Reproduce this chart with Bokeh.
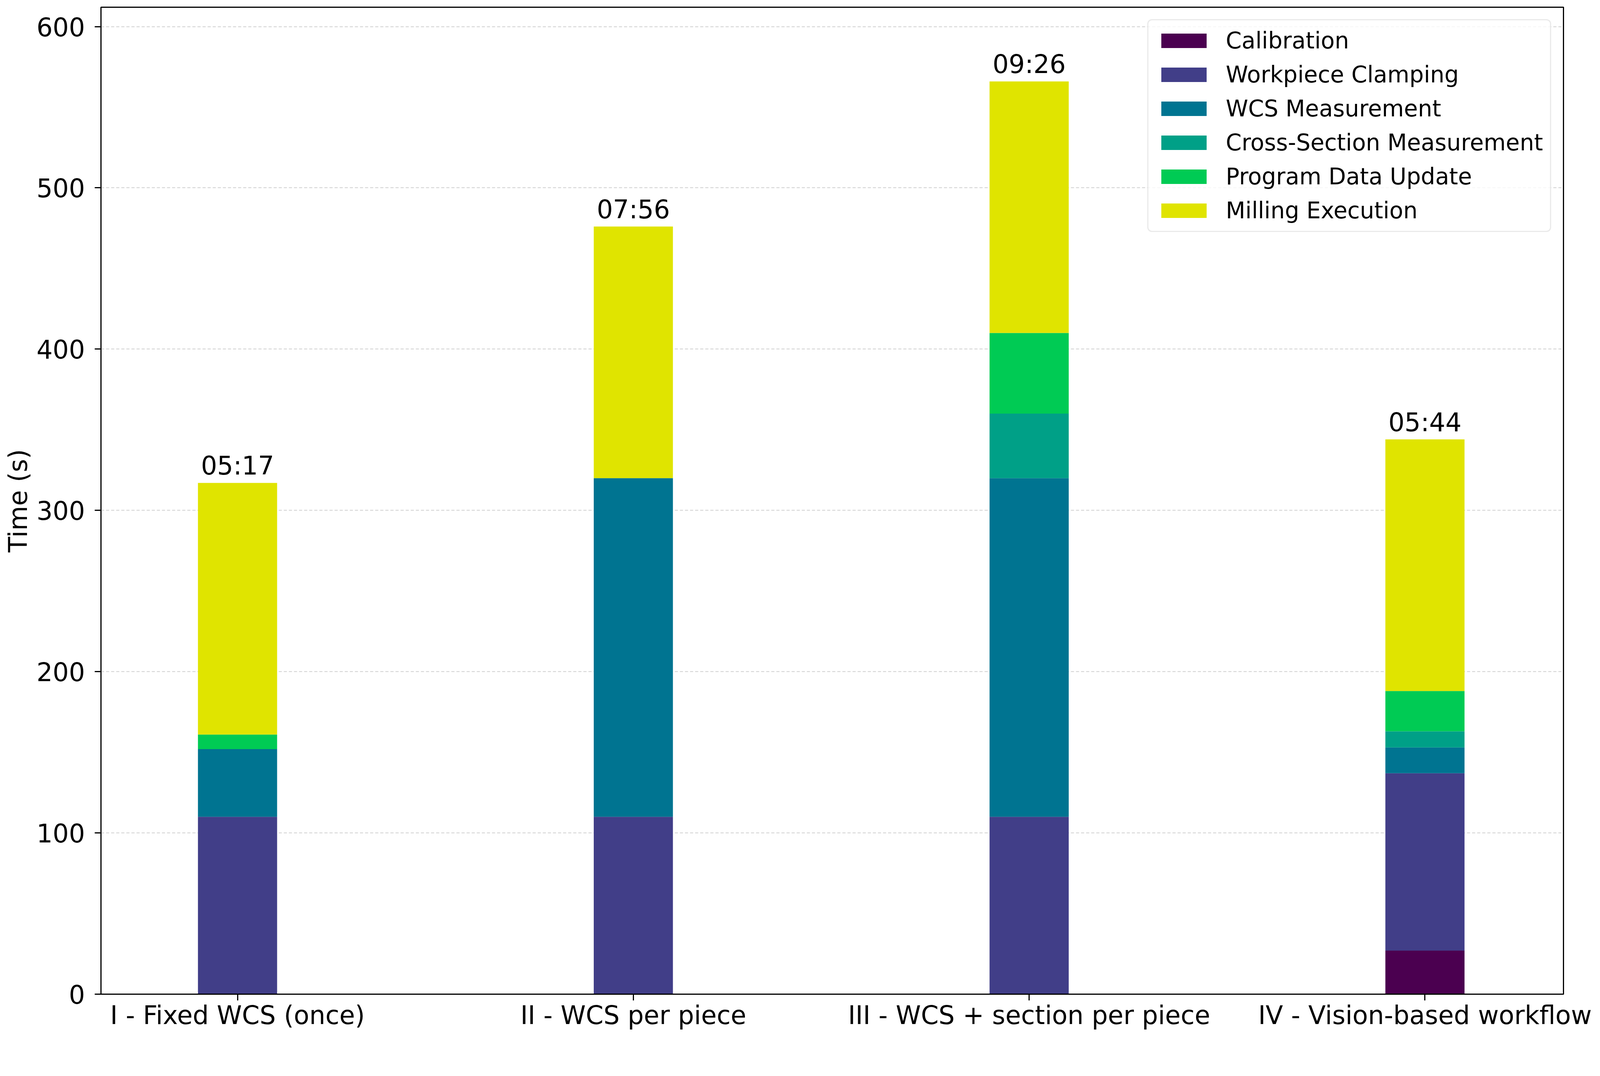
from bokeh.plotting import figure
from bokeh.models import ColumnDataSource, FixedTicker, Range1d
from bokeh.core.properties import value
from bokeh.embed import file_html
from bokeh.resources import INLINE

# ---- data ----
categories = ["I - Fixed WCS (once)", "II - WCS per piece",
              "III - WCS + section per piece", "IV - Vision-based workflow"]
series_names = ["Calibration", "Workpiece Clamping", "WCS Measurement",
                "Cross-Section Measurement", "Program Data Update", "Milling Execution"]
calibration = [0, 0, 0, 27]
clamping = [110, 110, 110, 110]
wcs = [42, 210, 210, 16]
cross_section = [0, 0, 40, 10]
program_update = [9, 0, 50, 25]
milling = [156, 156, 156, 156]
y_ticks = [0, 100, 200, 300, 400, 500, 600]

colors = ["#4b0050", "#413e88", "#007491", "#00a087", "#00cb54", "#e0e400"]

keys = ["cal", "clamp", "wcs", "cross", "prog", "mill"]
xs = list(range(len(categories)))
totals = [a + b + c + d + e + f for a, b, c, d, e, f in
          zip(calibration, clamping, wcs, cross_section, program_update, milling)]
time_labels = ["%02d:%02d" % (t // 60, t % 60) for t in totals]

source = ColumnDataSource(dict(x=xs, cal=calibration, clamp=clamping, wcs=wcs,
                               cross=cross_section, prog=program_update, mill=milling))
lab_src = ColumnDataSource(dict(x=xs, y=totals, text=time_labels))

FONT = "DejaVu Sans"

p = figure(width=4090, height=2640, output_backend="svg", toolbar_location=None,
           x_range=Range1d(-0.345, 3.35), y_range=Range1d(0, 612),
           min_border_left=258, min_border_right=88, min_border_top=18,
           min_border_bottom=95)
p.background_fill_color = "white"
p.border_fill_color = "white"
p.outline_line_color = "black"
p.outline_line_width = 3

p.vbar_stack(keys, x="x", width=0.2, color=colors, line_color=None,
             source=source, legend_label=series_names)

p.text(x="x", y="y", text="text", source=lab_src, text_align="center",
       text_baseline="alphabetic", y_offset=-44, text_font=value(FONT),
       text_font_size="65px", text_color="black")

# axes
p.xaxis.ticker = FixedTicker(ticks=xs)
p.xaxis.major_label_overrides = {i: c for i, c in zip(xs, categories)}
p.yaxis.ticker = FixedTicker(ticks=y_ticks)
p.yaxis.axis_label = "Time (s)"
for ax in (p.xaxis[0], p.yaxis[0]):
    ax.axis_line_color = "black"
    ax.axis_line_width = 3
    ax.major_tick_line_color = "black"
    ax.major_tick_line_width = 3
    ax.major_tick_out = 16
    ax.major_tick_in = 0
    ax.minor_tick_line_color = None
    ax.major_label_text_font = FONT
    ax.major_label_text_font_size = "65px"
    ax.major_label_text_color = "black"
    ax.axis_label_text_font = FONT
    ax.axis_label_text_font_size = "65px"
    ax.axis_label_text_font_style = "normal"
    ax.axis_label_text_color = "black"
p.xaxis.major_label_standoff = 0
p.yaxis.major_label_standoff = 25
p.yaxis.axis_label_standoff = 6

p.xgrid.visible = False
p.ygrid.grid_line_color = "#cfcfcf"
p.ygrid.grid_line_width = 2
p.ygrid.grid_line_dash = "8 5"

# legend
lg = p.legend[0]
lg.location = "top_right"
lg.margin = 31
lg.padding = 18
lg.spacing = 19
lg.glyph_width = 145
lg.glyph_height = 46
lg.label_standoff = 35
lg.label_text_font = FONT
lg.label_text_font_size = "58px"
lg.label_text_color = "black"
lg.border_line_color = "#d5d5d5"
lg.border_line_width = 3
lg.background_fill_color = "white"
lg.background_fill_alpha = 0.8
try:
    lg.border_radius = 12
except Exception:
    pass

open("out.html", "w").write(file_html(p, INLINE))
